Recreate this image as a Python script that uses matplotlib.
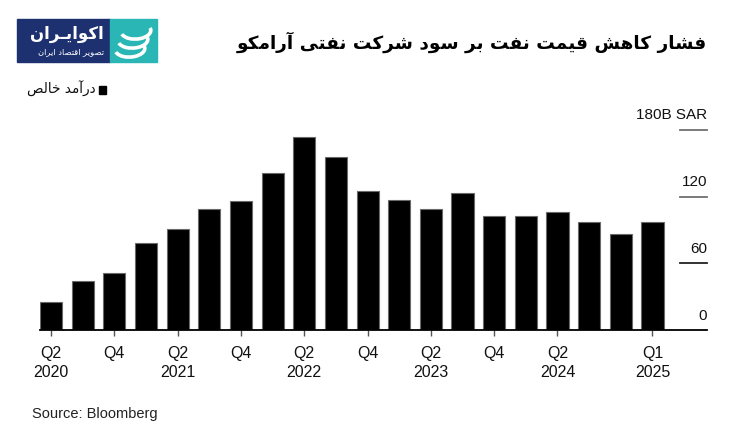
import matplotlib
matplotlib.use("Agg")
import matplotlib.pyplot as plt
import matplotlib.patches as patches
import matplotlib.transforms as mtransforms

# Datos (miles de millones de SAR)
trimestres = ["Q2 2020", "Q3 2020", "Q4 2020", "Q1 2021", "Q2 2021", "Q3 2021", "Q4 2021",
              "Q1 2022", "Q2 2022", "Q3 2022", "Q4 2022", "Q1 2023", "Q2 2023", "Q3 2023",
              "Q4 2023", "Q1 2024", "Q2 2024", "Q3 2024", "Q4 2024", "Q1 2025"]
ingreso_neto = [24.9, 43.8, 51.3, 78.0, 90.6, 108.6, 116.1, 141.6, 173.4, 155.4,
                124.8, 117.0, 108.6, 123.3, 102.3, 102.9, 105.9, 96.9, 86.4, 96.9]
pos_ticks = [0, 2, 4, 6, 8, 10, 12, 14, 16, 19]
etiquetas_x = ["Q2\n2020", "Q4", "Q2\n2021", "Q4", "Q2\n2022", "Q4", "Q2\n2023", "Q4", "Q2\n2024", "Q1\n2025"]
valores_y = [0, 60, 120, 180]
etiquetas_y = ["0", "60", "120", "180B SAR"]

titulo = "فشار کاهش قیمت نفت بر سود شرکت نفتی آرامکو"
leyenda = "درآمد خالص"
fuente = "Source: Bloomberg"
logo_1 = "اکوایـران"
logo_2 = "تصویر اقتصاد ایران"

# formas: aislada, final, inicial, media
formas = {
    'ا': ('\uFE8D', '\uFE8E', None, None),
    'آ': ('\uFE81', '\uFE82', None, None),
    'ب': ('\uFE8F', '\uFE90', '\uFE91', '\uFE92'),
    'پ': ('\uFB56', '\uFB57', '\uFB58', '\uFB59'),
    'ت': ('\uFE95', '\uFE96', '\uFE97', '\uFE98'),
    'خ': ('\uFEA5', '\uFEA6', '\uFEA7', '\uFEA8'),
    'د': ('\uFEA9', '\uFEAA', None, None),
    'ر': ('\uFEAD', '\uFEAE', None, None),
    'ز': ('\uFEAF', '\uFEB0', None, None),
    'س': ('\uFEB1', '\uFEB2', '\uFEB3', '\uFEB4'),
    'ش': ('\uFEB5', '\uFEB6', '\uFEB7', '\uFEB8'),
    'ص': ('\uFEB9', '\uFEBA', '\uFEBB', '\uFEBC'),
    'ف': ('\uFED1', '\uFED2', '\uFED3', '\uFED4'),
    'ق': ('\uFED5', '\uFED6', '\uFED7', '\uFED8'),
    'ل': ('\uFEDD', '\uFEDE', '\uFEDF', '\uFEE0'),
    'م': ('\uFEE1', '\uFEE2', '\uFEE3', '\uFEE4'),
    'ن': ('\uFEE5', '\uFEE6', '\uFEE7', '\uFEE8'),
    'ه': ('\uFEE9', '\uFEEA', '\uFEEB', '\uFEEC'),
    'و': ('\uFEED', '\uFEEE', None, None),
    'ک': ('\uFB8E', '\uFB8F', '\uFB90', '\uFB91'),
    'ی': ('\uFBFC', '\uFBFD', '\uFBFE', '\uFBFF'),
    'ـ': ('\u0640', '\u0640', '\u0640', '\u0640'),
}


def rtl(texto):
    # unir letras y dar vuelta el orden para dibujar de izquierda a derecha
    salida = []
    for i, ch in enumerate(texto):
        if ch not in formas:
            salida.append(ch)
            continue
        prev = texto[i - 1] if i > 0 else ''
        sig = texto[i + 1] if i + 1 < len(texto) else ''
        une_prev = prev in formas and formas[prev][2] is not None
        une_sig = sig in formas and formas[ch][2] is not None
        iso, fin, ini, med = formas[ch]
        if une_prev and une_sig:
            salida.append(med)
        elif une_prev:
            salida.append(fin)
        elif une_sig:
            salida.append(ini)
        else:
            salida.append(iso)
    return ''.join(reversed(salida))


plt.rcParams['font.family'] = ['Liberation Sans', 'DejaVu Sans']

W, H = 742, 445
fig = plt.figure(figsize=(W / 100, H / 100), dpi=100)

# ejes: x de 40 a 707 px, base en y=330 px, 60 unidades = 66.7 px
px_unidad = 66.7 / 60
ymax = 200
alto_px = ymax * px_unidad
ax = fig.add_axes([40 / W, (H - 330) / H, 667 / W, alto_px / H])

x = list(range(len(ingreso_neto)))
ax.bar(x, ingreso_neto, width=0.7, color='black', edgecolor='#6a6a6a', linewidth=0.8, zorder=2)

paso = 31.65
ax.set_xlim(-0.35, -0.35 + 667 / paso)
ax.set_ylim(0, ymax)

for lado in ['top', 'right', 'left']:
    ax.spines[lado].set_visible(False)
ax.spines['bottom'].set_color('black')
ax.spines['bottom'].set_linewidth(1.3)

ax.set_yticks([])
ax.set_xticks(pos_ticks)
ax.set_xticklabels(etiquetas_x, fontsize=11.5, linespacing=1.3, color='#111111')
ax.tick_params(axis='x', length=4.5, width=1, color='#555555', pad=7)

# etiquetas y rayitas del eje y a la derecha
trans = mtransforms.blended_transform_factory(ax.transAxes, ax.transData)
for v, et in zip(valores_y, etiquetas_y):
    if v > 0:
        col = '#222222' if v == 60 else '#707070'
        ax.plot([0.9595, 1.0], [v, v], transform=trans, color=col, linewidth=1.3, clip_on=False)
    ax.annotate(et, xy=(1.0, v), xycoords=trans, xytext=(0, 7.5), textcoords='offset points',
                ha='right', va='baseline', fontsize=11, color='#111111')

# titulo
fig.text(707 / W, 1 - 42 / H, rtl(titulo), family='DejaVu Sans', fontweight='bold',
         fontsize=13.3, ha='right', va='center', color='black')

# leyenda (cuadrado a la derecha del texto)
fig.patches.append(patches.Rectangle((99 / W, 1 - 94 / H), 7 / W, 8 / H,
                                     transform=fig.transFigure, color='black'))
fig.text(96 / W, 1 - 89 / H, rtl(leyenda), family='DejaVu Sans', fontsize=9.8,
         ha='right', va='center', color='#111111')

# fuente
fig.text(32 / W, 1 - 414 / H, fuente, fontsize=10.5, ha='left', va='center', color='#222222')

# logo
fig.patches.append(patches.Rectangle((17 / W, 1 - 62 / H), 93 / W, 43 / H,
                                     transform=fig.transFigure, color='#1d3170'))
fig.patches.append(patches.Rectangle((110 / W, 1 - 62 / H), 47 / W, 43 / H,
                                     transform=fig.transFigure, color='#29b6b4'))
fig.text(104 / W, 1 - 34 / H, rtl(logo_1), family='DejaVu Sans', fontweight='bold',
         fontsize=12, ha='right', va='center', color='white')
fig.text(104 / W, 1 - 52 / H, rtl(logo_2), family='DejaVu Sans', fontsize=6,
         ha='right', va='center', color='white')
for k, (cx, cy) in enumerate([(136, 31), (133, 40), (130, 49)]):
    arco = patches.Arc((cx / W, 1 - cy / H), 30 / W, 16 / H, angle=20, theta1=180, theta2=360,
                       transform=fig.transFigure, color='white', linewidth=2.6)
    fig.patches.append(arco)

fig.savefig('out.png', dpi=100, facecolor='white')
